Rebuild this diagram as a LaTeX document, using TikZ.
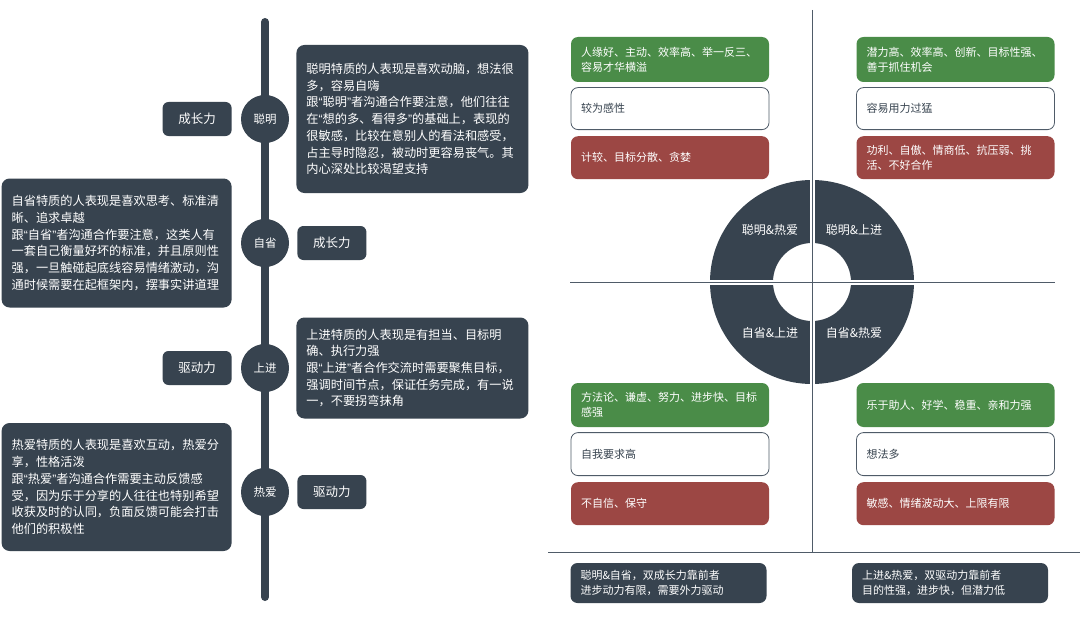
\documentclass[tikz,border=0pt]{standalone}
\usepackage{fontspec}
\setmainfont{Noto Sans CJK SC}
\newfontfamily\quotefont{Liberation Sans}
\newcommand\zhlq{{\quotefont “}}
\newcommand\zhrq{{\quotefont ”}}
\usetikzlibrary{positioning}
\definecolor{slate}{RGB}{55,67,79}
\definecolor{goodgreen}{RGB}{74,140,72}
\definecolor{badred}{RGB}{156,71,68}
\definecolor{rimgray}{RGB}{79,91,104}

\begin{document}
\begin{tikzpicture}[x=1pt, y=-1pt,
        node distance=5pt and 8pt,
        every node/.style={font=\fontsize{12}{16}\selectfont},
        tlbar/.style={line width=8pt, slate, line cap=round},
        traitdot/.style={circle, fill=slate, minimum size=48pt, inner sep=0pt, text=white, font=\fontsize{11.5}{14}\selectfont},
        tagbox/.style={rounded corners=6pt, fill=slate, minimum width=69pt, minimum height=34pt, inner sep=0pt, text=white, font=\fontsize{12.5}{15}\selectfont},
        descbox/.style={rounded corners=8pt, fill=slate, text=white, align=left, inner xsep=10pt, inner ysep=0pt, font=\fontsize{12.2}{16.7}\selectfont},
        quadbox/.style={rounded corners=7pt, text width=178pt, align=left, inner xsep=10pt, inner ysep=0pt, font=\fontsize{11}{15}\selectfont},
        prosbox/.style={quadbox, fill=goodgreen, text=white},
        midbox/.style={quadbox, fill=white, draw=rimgray, thick, text=slate},
        consbox/.style={quadbox, fill=badred, text=white},
        sumbox/.style={rounded corners=7pt, fill=slate, text=white, align=left, text width=176pt, inner xsep=10pt, minimum height=40pt, font=\fontsize{11}{15}\selectfont},
        axis/.style={rimgray, line width=0.9pt},
        pairlabel/.style={text=white, font=\fontsize{12}{14}\selectfont}
    ]
        \useasboundingbox (0,0) rectangle (1080,618);
        \fill[white] (0,0) rectangle (1080,618);

        % Timeline on the left
        \coordinate (bartop) at (265,22);
        \coordinate (barbot) at (265,597);
        \draw[tlbar] (bartop) -- (barbot);

        \node[traitdot] (smart) at (265,119) {聪明};
        \node[traitdot] (reflect) at (265,243) {自省};
        \node[traitdot] (ambit) at (265,368) {上进};
        \node[traitdot] (passion) at (265,492) {热爱};

        % Tags next to each trait
        \node[tagbox, left=9pt of smart] (tag1) {成长力};
        \node[tagbox, right=8pt of reflect] (tag2) {成长力};
        \node[tagbox, left=9pt of ambit] (tag3) {驱动力};
        \node[tagbox, right=8pt of passion] (tag4) {驱动力};

        % Descriptions
        \node[descbox, text width=212pt, minimum height=148pt, right=7pt of smart] (desc1) {聪明特质的人表现是喜欢动脑，想法很\\多，容易自嗨\\跟\zhlq 聪明\zhrq 者沟通合作要注意，他们往往\\在\zhlq 想的多、看得多\zhrq 的基础上，表现的\\很敏感，比较在意别人的看法和感受，\\占主导时隐忍，被动时更容易丧气。其\\内心深处比较渴望支持};
        \node[descbox, text width=210pt, minimum height=129pt, left=9pt of reflect] (desc2) {自省特质的人表现是喜欢思考、标准清\\晰、追求卓越\\跟\zhlq 自省\zhrq 者沟通合作要注意，这类人有\\一套自己衡量好坏的标准，并且原则性\\强，一旦触碰起底线容易情绪激动，沟\\通时候需要在起框架内，摆事实讲道理};
        \node[descbox, text width=212pt, minimum height=101pt, right=7pt of ambit] (desc3) {上进特质的人表现是有担当、目标明\\确、执行力强\\跟\zhlq 上进\zhrq 者合作交流时需要聚焦目标，\\强调时间节点，保证任务完成，有一说\\一，不要拐弯抹角};
        \node[descbox, text width=210pt, minimum height=128pt, left=9pt of passion, yshift=5pt] (desc4) {热爱特质的人表现是喜欢互动，热爱分\\享，性格活泼\\跟\zhlq 热爱\zhrq 者沟通合作需要主动反馈感\\受，因为乐于分享的人往往也特别希望\\收获及时的认同，负面反馈可能会打击\\他们的积极性};

        % Quadrant chart on the right
        \coordinate (hub) at (812,282);
        \coordinate (vtop) at (812,10);
        \coordinate (vbot) at (812,552);
        \coordinate (hleft) at (570,282);
        \coordinate (hright) at (1055,282);
        \coordinate (baseL) at (548,552);
        \coordinate (baseR) at (1080,552);

        \fill[slate, even odd rule] (hub) circle[radius=102pt] circle[radius=39pt];
        \draw[white, line width=5pt] ([xshift=-105pt]hub) -- ([xshift=105pt]hub);
        \draw[white, line width=5pt] ([yshift=-105pt]hub) -- ([yshift=105pt]hub);
        \draw[axis] (vtop) -- (vbot);
        \draw[axis] (hleft) -- (hright);
        \draw[axis] (baseL) -- (baseR);

        \node[pairlabel] (q1) at (770,230) {聪明\&热爱};
        \node[pairlabel] (q2) at (854,230) {聪明\&上进};
        \node[pairlabel] (q3) at (770,333) {自省\&上进};
        \node[pairlabel] (q4) at (854,333) {自省\&热爱};

        % Top left: smart & passion
        \node[prosbox, minimum height=45pt] (tlpro) at (670,59.5) {人缘好、主动、效率高、举一反三、\\容易才华横溢};
        \node[midbox, minimum height=42pt, below=5pt of tlpro] (tlmid) {较为感性};
        \node[consbox, minimum height=43pt, below=6pt of tlmid] (tlcon) {计较、目标分散、贪婪};

        % Top right: smart & ambition
        \node[prosbox, minimum height=45pt] (trpro) at (955.5,59.5) {潜力高、效率高、创新、目标性强、\\善于抓住机会};
        \node[midbox, minimum height=42pt, below=5pt of trpro] (trmid) {容易用力过猛};
        \node[consbox, minimum height=43pt, below=6pt of trmid] (trcon) {功利、自傲、情商低、抗压弱、挑\\活、不好合作};

        % Bottom left: reflection & ambition
        \node[prosbox, minimum height=44pt] (blpro) at (670,405) {方法论、谦虚、努力、进步快、目标\\感强};
        \node[midbox, minimum height=43pt, below=5pt of blpro] (blmid) {自我要求高};
        \node[consbox, minimum height=43pt, below=6pt of blmid] (blcon) {不自信、保守};

        % Bottom right: reflection & passion
        \node[prosbox, minimum height=44pt] (brpro) at (955.5,405) {乐于助人、好学、稳重、亲和力强};
        \node[midbox, minimum height=43pt, below=5pt of brpro] (brmid) {想法多};
        \node[consbox, minimum height=43pt, below=6pt of brmid] (brcon) {敏感、情绪波动大、上限有限};

        % Summary boxes
        \node[sumbox] (sumL) at (668.5,583) {聪明\&自省，双成长力靠前者\\进步动力有限，需要外力驱动};
        \node[sumbox] (sumR) at (950,583) {上进\&热爱，双驱动力靠前者\\目的性强，进步快，但潜力低};

    \end{tikzpicture}
\end{document}
